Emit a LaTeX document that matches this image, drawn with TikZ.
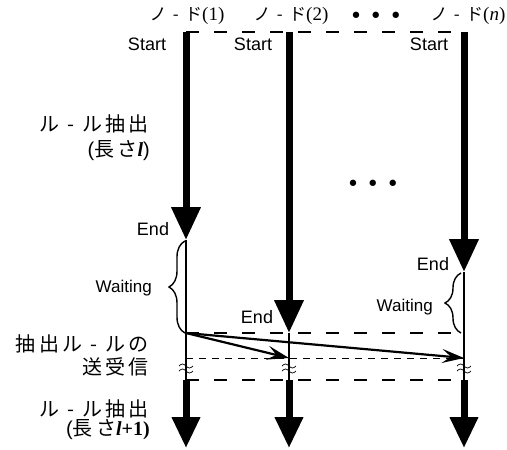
\documentclass[tikz,border=0pt]{standalone}
\usepackage{fontspec}
\setmainfont{Liberation Sans}
\newfontfamily\jp{Noto Sans CJK JP}[LetterSpace=17]
\newfontfamily\jpn{Noto Sans CJK JP}[LetterSpace=15]
\newfontfamily\serif{Liberation Serif}
\newfontfamily\dejavu{DejaVu Sans}
\usetikzlibrary{arrows.meta,decorations.pathreplacing}
\begin{document}
\begin{tikzpicture}[x=1pt,y=-1pt,
  thickarr/.style={line width=7pt,-{Triangle[width=28pt,length=33pt]}},
  lowarr/.style={line width=7pt,-{Triangle[width=27pt,length=31pt]}},
  thinline/.style={line width=1.1pt},
  bigdash/.style={line width=2.5pt,dash pattern=on 13pt off 15pt},
  smalldash/.style={line width=1pt,dash pattern=on 7pt off 6pt},
  msgarr/.style={line width=2.2pt,-{Stealth[length=22pt,width=14pt,inset=9pt]}},
  bracestyle/.style={line width=1.4pt,decorate,decoration={brace,amplitude=16pt}},
  lbl/.style={font=\fontsize{18}{20}\selectfont,anchor=base,inner sep=0pt},
  waitlbl/.style={font=\fontsize{17}{18}\selectfont,anchor=base east,inner sep=0pt},
  jlbl/.style={font=\fontsize{20}{24}\selectfont,anchor=base east,inner sep=0pt},
  nodelbl/.style={font=\fontsize{19}{20}\selectfont,anchor=base,inner sep=0pt},
  wave/.style={line width=0.7pt}]
\useasboundingbox (0,0) rectangle (507,450);

% coordinates
\coordinate (t1) at (186,32); \coordinate (t2) at (289,32); \coordinate (t3) at (464,32);
\coordinate (e1) at (186,240); \coordinate (e2) at (289,333); \coordinate (e3) at (464,272);
\coordinate (m1) at (186,333); \coordinate (m3) at (464,333);
\coordinate (r1) at (186,358); \coordinate (r2) at (289,358); \coordinate (r3) at (464,358);
\coordinate (b1) at (186,380); \coordinate (b2) at (289,380); \coordinate (b3) at (464,380);
\coordinate (f1) at (186,448); \coordinate (f2) at (289,448); \coordinate (f3) at (464,448);

% header labels
\node[nodelbl] (n1) at (187,20) {{\jpn\fontsize{17}{20}\selectfont ノ - ド}{\serif (1)}};
\node[nodelbl] (n2) at (291,20) {{\jpn\fontsize{17}{20}\selectfont ノ - ド}{\serif (2)}};
\node[nodelbl] (n3) at (468,20) {{\jpn\fontsize{17}{20}\selectfont ノ - ド}{\serif (\textit{n})}};
\node[anchor=base,inner sep=0pt,font=\dejavu\fontsize{22}{24}\selectfont] (dd) at (376,23) {• • •};
\node[anchor=base,inner sep=0pt,font=\dejavu\fontsize{22}{24}\selectfont] (dm) at (373,191) {• • •};

% thin vertical lines
\draw[thinline] (e1) -- (b1);
\draw[thinline] (e2) -- (b2);
\draw[thinline] (e3) -- (b3);

% dashed lines
\draw[bigdash] (t1) -- (t3);
\draw[bigdash] (m1) -- (m3);
\draw[smalldash] (r1) -- (r3);
\draw[bigdash] (b1) -- (b3);

% thick arrows
\draw[thickarr] (t1) -- (e1);
\draw[thickarr] (t2) -- (e2);
\draw[thickarr] (t3) -- (e3);
\draw[lowarr] (b1) -- (f1);
\draw[lowarr] (b2) -- (f2);
\draw[lowarr] (b3) -- (f3);

% messages
\draw[msgarr] (m1) -- (r2);
\draw[msgarr] (m1) -- (r3);

% waves
\foreach \x in {186,289,464}{
  \draw[wave] (\x-7,366) sin (\x-3.5,364) cos (\x,366) sin (\x+3.5,368) cos (\x+7,366);
  \draw[wave] (\x-7,371) sin (\x-3.5,369) cos (\x,371) sin (\x+3.5,373) cos (\x+7,371);
}

% braces
\draw[bracestyle] (185,333) -- (185,241);
\draw[bracestyle] (461,333) -- (461,273);

% labels
\node[lbl] (s1) at (147,50) {Start};
\node[lbl] (s2) at (253,50) {Start};
\node[lbl] (s3) at (429,50) {Start};
\node[lbl] (en1) at (153,235) {End};
\node[lbl] (en2) at (257,323) {End};
\node[lbl] (en3) at (433,270) {End};
\node[waitlbl] (w1) at (152,292) {Waiting};
\node[waitlbl] (w2) at (433,311) {Waiting};

\node[jlbl] (j1) at (149,131) {\jp ル - ル抽出};
\node[jlbl] (j2) at (150,156) {({\jp 長さ}{\serif\bfseries\itshape l})};
\node[jlbl] (j3) at (149,351) {\jp 抽出ル - ルの};
\node[jlbl] (j4) at (149,374) {\jp 送受信};
\node[jlbl] (j5) at (149,416) {\jp ル - ル抽出};
\node[jlbl] (j6) at (150,435) {({\jp 長さ}{\serif\bfseries\itshape l}{\serif\bfseries +1)}};
\end{tikzpicture}
\end{document}
